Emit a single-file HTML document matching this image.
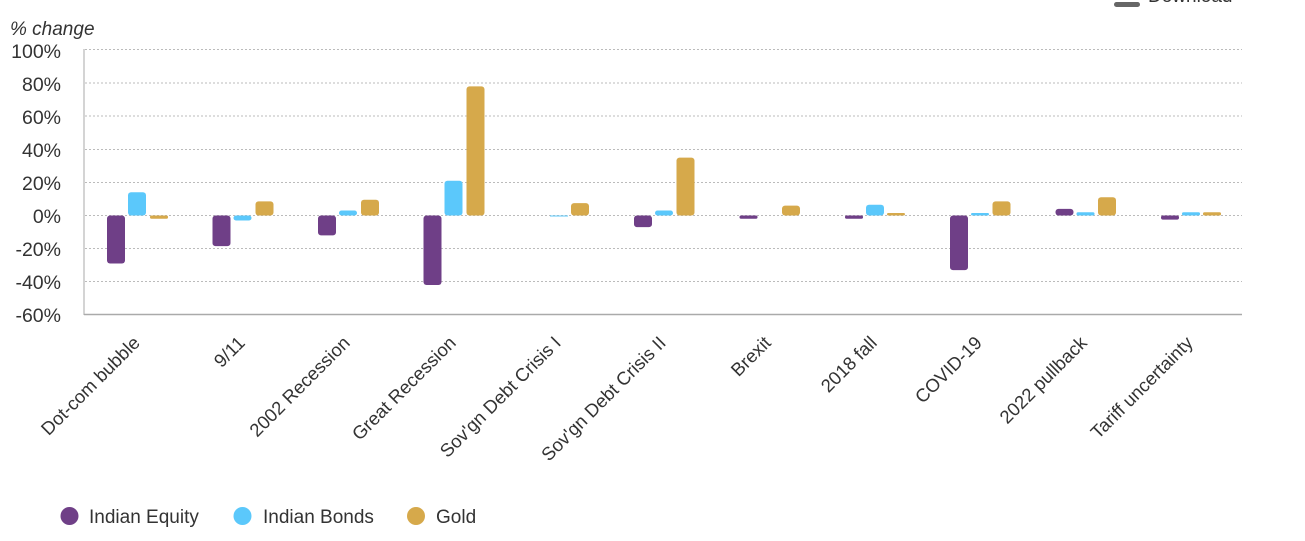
<!DOCTYPE html>
<html><head><meta charset="utf-8"><style>
html,body{margin:0;padding:0;background:#fff;width:1305px;height:541px;overflow:hidden}
text{font-family:"Liberation Sans",Arial,sans-serif;fill:#333}
</style></head><body>
<svg width="1305" height="541" viewBox="0 0 1305 541" xmlns="http://www.w3.org/2000/svg">
<rect x="1114" y="2" width="26" height="5" rx="2.5" fill="#666"/>
<text x="1148" y="2" font-size="19" fill="#333">Download</text>
<text x="10" y="35" font-size="19" font-style="italic">% change</text>
<g stroke="#bbb" stroke-dasharray="2,2" stroke-width="1">
<line x1="85" x2="1242" y1="49.5" y2="49.5"/>
<line x1="85" x2="1242" y1="83" y2="83"/>
<line x1="85" x2="1242" y1="116" y2="116"/>
<line x1="85" x2="1242" y1="149.5" y2="149.5"/>
<line x1="85" x2="1242" y1="182.5" y2="182.5"/>
<line x1="85" x2="1242" y1="215.5" y2="215.5"/>
<line x1="85" x2="1242" y1="248.5" y2="248.5"/>
<line x1="85" x2="1242" y1="281.5" y2="281.5"/>
</g>
<line x1="84" x2="84" y1="49" y2="315" stroke="#aaa"/>
<line x1="84" x2="1242" y1="314.5" y2="314.5" stroke="#aaa" stroke-width="1.5"/>
<g font-size="19.5" text-anchor="end">
<text x="61" y="58">100%</text>
<text x="61" y="91">80%</text>
<text x="61" y="124">60%</text>
<text x="61" y="157">40%</text>
<text x="61" y="190">20%</text>
<text x="61" y="223">0%</text>
<text x="61" y="256">-20%</text>
<text x="61" y="289">-40%</text>
<text x="61" y="322">-60%</text>
</g>
<g fill="#6f3f87">
<rect x="107" y="215.5" width="18" height="48" rx="3"/>
<rect x="212.5" y="215.5" width="18" height="30.6" rx="3"/>
<rect x="318" y="215.5" width="18" height="19.9" rx="3"/>
<rect x="423.5" y="215.5" width="18" height="69.5" rx="3"/>
<rect x="634" y="215.5" width="18" height="11.6" rx="3"/>
<rect x="739.5" y="215.5" width="18" height="3.3" rx="1.5"/>
<rect x="845" y="215.5" width="18" height="3.3" rx="1.5"/>
<rect x="950" y="215.5" width="18" height="54.6" rx="3"/>
<rect x="1055.5" y="208.9" width="18" height="6.6" rx="3"/>
<rect x="1161" y="215.5" width="18" height="4.1" rx="2"/>
</g>
<g fill="#5bc8fb">
<rect x="128" y="192.3" width="18" height="23.2" rx="3"/>
<rect x="233.5" y="215.5" width="18" height="5" rx="2.5"/>
<rect x="339" y="210.5" width="18" height="5" rx="2.5"/>
<rect x="444.5" y="180.7" width="18" height="34.8" rx="3"/>
<rect x="550" y="215.5" width="18" height="1" />
<rect x="655" y="210.5" width="18" height="5" rx="2.5"/>
<rect x="866" y="204.7" width="18" height="10.8" rx="3"/>
<rect x="971" y="213" width="18" height="2.5" rx="1.2"/>
<rect x="1076.5" y="212.2" width="18" height="3.3" rx="1.5"/>
<rect x="1182" y="212.2" width="18" height="3.3" rx="1.5"/>
</g>
<g fill="#d6a94b">
<rect x="150" y="215.5" width="18" height="3.3" rx="1.5"/>
<rect x="255.5" y="201.4" width="18" height="14.1" rx="3"/>
<rect x="361" y="199.8" width="18" height="15.7" rx="3"/>
<rect x="466.5" y="86.4" width="18" height="129.1" rx="3"/>
<rect x="571" y="203.1" width="18" height="12.4" rx="3"/>
<rect x="676.5" y="157.6" width="18" height="57.9" rx="3"/>
<rect x="782" y="205.6" width="18" height="9.9" rx="3"/>
<rect x="887" y="213" width="18" height="2.5" rx="1.2"/>
<rect x="992.5" y="201.4" width="18" height="14.1" rx="3"/>
<rect x="1098" y="197.3" width="18" height="18.2" rx="3"/>
<rect x="1203" y="212.2" width="18" height="3.3" rx="1.5"/>
</g>
<g font-size="18.5" text-anchor="end">
<text transform="translate(141,344) rotate(-45)">Dot-com bubble</text>
<text transform="translate(246,344) rotate(-45)">9/11</text>
<text transform="translate(351,344) rotate(-45)">2002 Recession</text>
<text transform="translate(457,344) rotate(-45)">Great Recession</text>
<text transform="translate(562,344) rotate(-45)">Sov'gn Debt Crisis I</text>
<text transform="translate(667,344) rotate(-45)">Sov'gn Debt Crisis II</text>
<text transform="translate(772,344) rotate(-45)">Brexit</text>
<text transform="translate(878,344) rotate(-45)">2018 fall</text>
<text transform="translate(983,344) rotate(-45)">COVID-19</text>
<text transform="translate(1088,344) rotate(-45)">2022 pullback</text>
<text transform="translate(1194,344) rotate(-45)">Tariff uncertainty</text>
</g>
<circle cx="69.5" cy="516" r="9" fill="#6f3f87"/>
<text x="89" y="523" font-size="19">Indian Equity</text>
<circle cx="242.5" cy="516" r="9" fill="#5bc8fb"/>
<text x="263" y="523" font-size="19">Indian Bonds</text>
<circle cx="416" cy="516" r="9" fill="#d6a94b"/>
<text x="436" y="523" font-size="19">Gold</text>
</svg>
</body></html>
